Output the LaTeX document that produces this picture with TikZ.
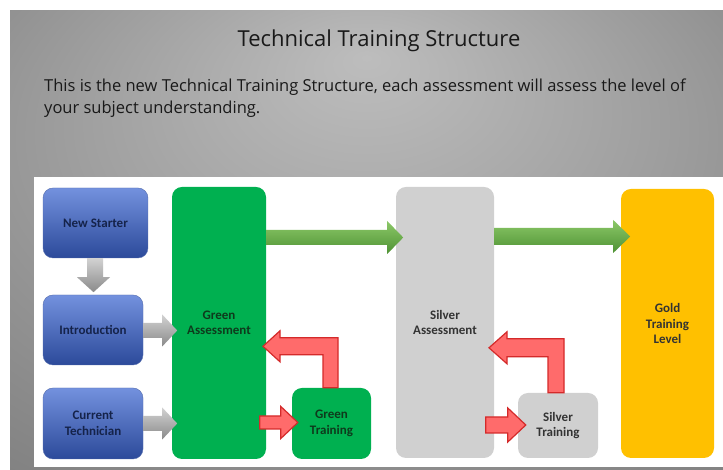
\documentclass[tikz,border=0pt]{standalone}
\usepackage{fontspec}
\setmainfont{Open Sans}
\newfontfamily\labelfont{Carlito}
\definecolor{bgin}{HTML}{BDBDBD}
\definecolor{bgout}{HTML}{6A6A6A}
\definecolor{bluetop}{HTML}{7391DE}
\definecolor{bluebot}{HTML}{2C4A9A}
\definecolor{navy}{HTML}{15234A}
\definecolor{grass}{HTML}{00B050}
\definecolor{darkgrass}{HTML}{0E3A1C}
\definecolor{silver}{HTML}{D0D0D0}
\definecolor{gold}{HTML}{FFC000}
\definecolor{greentop}{HTML}{8CC868}
\definecolor{greenbot}{HTML}{4E9234}
\definecolor{graytop}{HTML}{D2D2D2}
\definecolor{graybot}{HTML}{8A8A8A}
\definecolor{redfill}{HTML}{FF6B6B}
\definecolor{redline}{HTML}{D42A2A}
\pgfdeclareradialshading{bgglow}{\pgfpoint{0bp}{20bp}}{color(0bp)=(bgin); color(56bp)=(bgout)}
\tikzset{
  box/.style={rounded corners=10pt, inner sep=0pt, align=center,
    font=\labelfont\bfseries\fontsize{13}{15.5}\selectfont},
  bluebox/.style={box, top color=bluetop, bottom color=bluebot, draw=bluebot!80, text=navy},
  greenbox/.style={box, fill=grass, text=darkgrass},
  silverbox/.style={box, fill=silver, text=black!80},
  goldbox/.style={box, fill=gold, text=black!80},
  grayarrow/.style={top color=graytop, bottom color=graybot},
  greenarrow/.style={top color=greentop, bottom color=greenbot},
  redarrow/.style={fill=redfill, draw=redline, line width=1.2pt, line join=miter}
}
\begin{document}
\begin{tikzpicture}[x=1pt,y=1pt]
  \useasboundingbox (0,0) rectangle (723,470);
  \fill[white] (0,0) rectangle (723,470);
  \shade[shading=bgglow] (10,0) rectangle (723,459);
  \fill[white] (34,3) rectangle (723,293);

  \node[font=\fontsize{22}{26}\selectfont, text=black!90] (title) at (379,429) {Technical Training Structure};
  \node[font=\fontsize{16.5}{22}\selectfont, text=black!90, anchor=north west, align=left, inner sep=0pt] (intro text) at (44,391)
    {This is the new Technical Training Structure, each assessment will assess the level of\\your subject understanding.};

  % boxes
  \node[bluebox, minimum width=105, minimum height=70] (ns) at (95.5,247) {New Starter};
  \node[bluebox, minimum width=100, minimum height=70] (intro) at (93,140) {Introduction};
  \node[bluebox, minimum width=100, minimum height=71] (ct) at (93,46.5) {Current\\Technician};
  \node[greenbox, minimum width=94, minimum height=272] (gass) at (219,147) {Green\\Assessment};
  \node[greenbox, minimum width=79, minimum height=71] (gtrain) at (331.5,46.5) {Green\\Training};
  \node[silverbox, minimum width=98, minimum height=271] (sass) at (445,147.5) {Silver\\Assessment};
  \node[silverbox, minimum width=80, minimum height=65] (strain) at (558,44.5) {Silver\\Training};
  \node[goldbox, minimum width=93, minimum height=269] (gold) at (667.5,146.5) {Gold\\Training\\Level};

  % block arrows
  \shade[grayarrow, shift={(ns.south)}] (-8.5,0) -- (7.5,0) -- (7.5,-19) -- (14.5,-19) -- (-2,-34) -- (-18.5,-19) -- (-8.5,-19) -- cycle;
  \shade[grayarrow, shift={(intro.east)}] (0,7) -- (19,7) -- (19,15.5) -- (34,-0.5) -- (19,-16.5) -- (19,-8) -- (0,-8) -- cycle;
  \shade[grayarrow, shift={(ct.east)}] (0,7.5) -- (19,7.5) -- (19,16) -- (34,0) -- (19,-16) -- (19,-7.5) -- (0,-7.5) -- cycle;
  \shade[greenarrow, shift={(gass.east)}] (0,93) -- (121,93) -- (121,102) -- (137,85.5) -- (121,69) -- (121,78) -- (0,78) -- cycle;
  \shade[greenarrow, shift={(sass.east)}] (0,94.5) -- (119,94.5) -- (119,102.5) -- (136,86) -- (119,69.5) -- (119,77.5) -- (0,77.5) -- cycle;
  \filldraw[redarrow, shift={(gtrain.west)}] (-32,7.5) -- (-11,7.5) -- (-11,17) -- (6,1) -- (-11,-15) -- (-11,-5.5) -- (-32,-5.5) -- cycle;
  \filldraw[redarrow, shift={(gtrain.north)}] (6.5,0) -- (6.5,50) -- (-51.5,50) -- (-51.5,57) -- (-68.5,41.5) -- (-51.5,26) -- (-51.5,33) -- (-8.5,33) -- (-8.5,0) -- cycle;
  \filldraw[redarrow, shift={(strain.west)}] (-32,8.5) -- (-10,8.5) -- (-10,17.5) -- (8,0.5) -- (-10,-16.5) -- (-10,-7.5) -- (-32,-7.5) -- cycle;
  \filldraw[redarrow, shift={(strain.north)}] (6,0) -- (6,54) -- (-51,54) -- (-51,61) -- (-69,45) -- (-51,29) -- (-51,36) -- (-10,36) -- (-10,0) -- cycle;
\end{tikzpicture}
\end{document}
